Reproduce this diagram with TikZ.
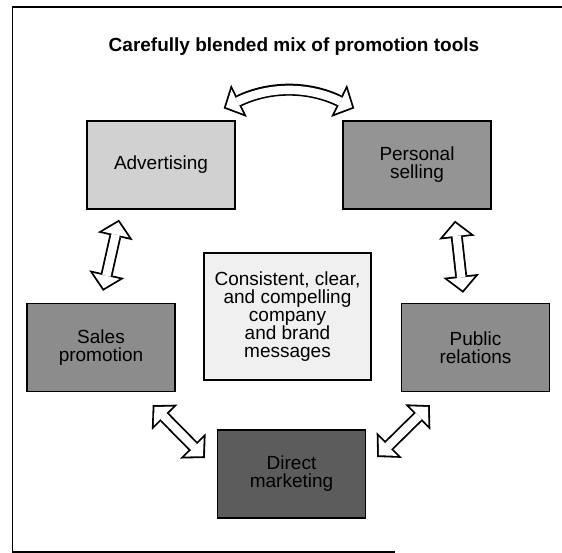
\documentclass[tikz,border=0pt]{standalone}
\usepackage{fontspec}
\setmainfont{Liberation Sans}
\usepackage{xcolor}
\usetikzlibrary{arrows.meta}
\tikzstyle{tool} = [rectangle, draw=black, line width=1.4pt, minimum width=148pt, minimum height=88pt, align=center, font=\fontsize{19}{18}\selectfont]
\tikzstyle{rim} = [line width=12pt, black, {Triangle[length=17pt, width=36pt, line width=0pt]}-{Triangle[length=17pt, width=36pt, line width=0pt]}]
\tikzstyle{core} = [line width=8.4pt, white, shorten <=2.5pt, shorten >=2.5pt, {Triangle[length=12.7pt, width=26.9pt, line width=0pt]}-{Triangle[length=12.7pt, width=26.9pt, line width=0pt]}]
\newcommand{\twoway}[1]{\draw[rim] #1; \draw[core] #1;}

\begin{document}
\begin{tikzpicture}[x=1pt, y=-1pt]
	\useasboundingbox (0,0) rectangle (562,553);
	\draw[line width=1.3pt] (562,7) -- (12.5,7) -- (12.5,552) -- (395,552);

	\node (title) at (294,47) [font=\bfseries\fontsize{19}{22}\selectfont] {Carefully blended mix of promotion tools};

	\node (adv) [tool, fill=black!18] at (161,165) {Advertising};
	\node (pers) [tool, fill=black!42] at (417,165) {Personal\\selling};
	\node (sales) [tool, fill=black!45] at (101,347.5) {Sales\\promotion};
	\node (msg) [tool, fill=black!6, minimum width=167pt, minimum height=127pt] at (287.5,316.5) {Consistent, clear,\\and compelling\\company\\and brand\\messages};
	\node (pub) [tool, fill=black!45] at (475.5,347.5) {Public\\relations};
	\node (direct) [tool, fill=black!64] at (291.5,474) {Direct\\marketing};

	\twoway{([xshift=-12pt,yshift=12pt]adv.north east) to[bend left=26] ([xshift=12pt,yshift=12pt]pers.north west)}
	\twoway{([xshift=-42pt,yshift=-10pt]adv.south) -- ([xshift=2pt,yshift=12pt]sales.north)}
	\twoway{([xshift=38pt,yshift=-11pt]pers.south) -- ([xshift=-12.5pt,yshift=10pt]pub.north)}
	\twoway{([xshift=-23pt,yshift=-13pt]sales.south east) -- ([xshift=-12pt,yshift=16pt]direct.west)}
	\twoway{([xshift=11pt,yshift=17pt]direct.east) -- ([xshift=29pt,yshift=-13pt]pub.south west)}

\end{tikzpicture}
\end{document}
